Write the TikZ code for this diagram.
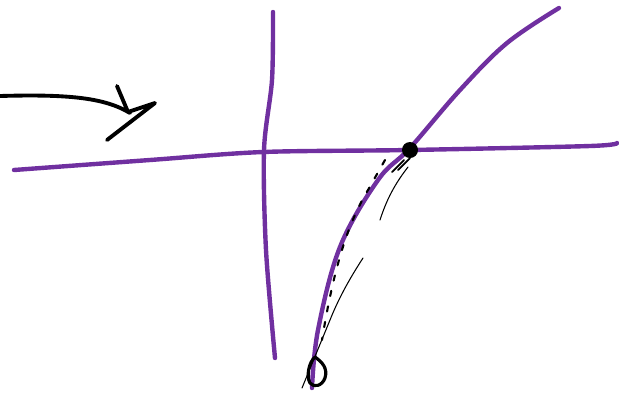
\documentclass[tikz,border=0pt]{standalone}
\definecolor{sketchpurple}{RGB}{112,48,160}
\begin{document}
\begin{tikzpicture}[x=0.02cm, y=-0.02cm, line join=round, line cap=round]
	\tikzset{penline/.style={sketchpurple, line width=2.5pt}, inkline/.style={black, line width=0.6pt}}
	\useasboundingbox (0,0) rectangle (619,393);
	% arrow at the left
	\draw[black, line width=2.2pt] (0,96) .. controls (70,94) and (105,98) .. (130,113);
	\draw[black, line width=2.2pt] (117,86) -- (128,112) -- (155,103) -- (107,140);
	% axes
	\draw[penline] plot[smooth] coordinates {(14,170) (150,160) (263,152) (410,150) (590,146) (617,143)};
	\draw[penline] plot[smooth] coordinates {(273,12) (272,80) (264,150) (266,250) (275,358)};
	% graph
	\draw[penline] plot[smooth, tension=0.6] coordinates {(312,388) (318,330) (340,247) (378,180) (410,148) (460,90) (507,43) (559,8)};
	\coordinate (root) at (410,150);
	\fill (root) circle (8);
	% pen marks along the graph
	\draw[inkline, line width=1.2pt, dash pattern=on 3pt off 6pt] (385,160) -- (368,190) .. controls (350,220) and (335,260) .. (322,340);
	\draw[inkline] (302,388) -- (330,320) .. controls (340,295) and (352,275) .. (363,258);
	\draw[inkline] (380,220) .. controls (388,195) and (398,180) .. (408,167);
	\draw[inkline, line width=1pt] (392,172) -- (404,160) (398,170) -- (410,158);
	\draw[black, line width=1.8pt] (315,357) .. controls (322,362) and (328,368) .. (325,378) .. controls (322,386) and (314,388) .. (310,383) .. controls (306,376) and (309,362) .. cycle;
\end{tikzpicture}
\end{document}
